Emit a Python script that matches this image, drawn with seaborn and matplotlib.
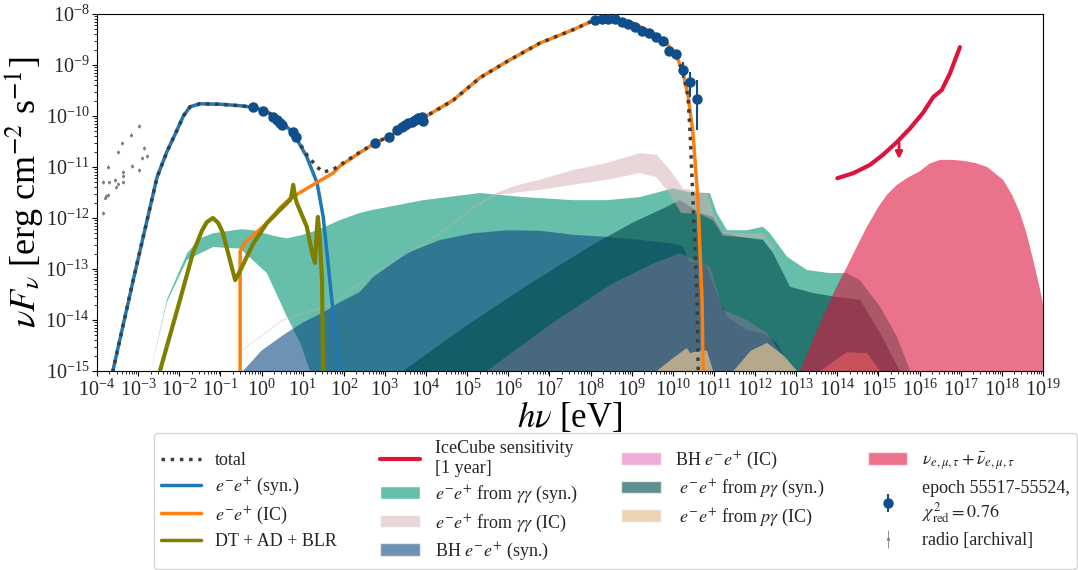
import numpy as np
import matplotlib
matplotlib.use("Agg")
import matplotlib.pyplot as plt
from matplotlib.lines import Line2D
from matplotlib.patches import Patch
from matplotlib.ticker import LogLocator, NullFormatter
import seaborn as sns

# all values below are log10(E / eV), log10(nuFnu)
total = [[-3.67, -15.2], [-3.12, -13.22], [-2.54, -11.2], [-2.3, -10.7], [-2.05, -10.27], [-1.9, -10.0],
         [-1.74, -9.82], [-1.5, -9.76], [-1.0, -9.77], [-0.5, -9.8], [-0.2, -9.83], [0.1, -9.9],
         [0.38, -10.04], [0.77, -10.33], [1.1, -10.76], [1.35, -11.0], [1.5, -11.1], [1.74, -11.05],
         [1.91, -10.96], [2.39, -10.71], [2.76, -10.53], [3.1, -10.4], [3.5, -10.2], [3.93, -10.04],
         [4.66, -9.69], [5.31, -9.25], [5.97, -8.93], [6.77, -8.57], [7.57, -8.31], [8.06, -8.13],
         [8.4, -8.1], [8.7, -8.12], [9.03, -8.18], [9.52, -8.38], [9.86, -8.58], [10.1, -8.84],
         [10.25, -9.16], [10.37, -9.62], [10.42, -10.33], [10.49, -11.65], [10.59, -13.6], [10.62, -15.2]]

syn = [[-3.67, -15.2], [-3.12, -13.22], [-2.54, -11.2], [-2.3, -10.7], [-2.05, -10.27], [-1.9, -10.0],
       [-1.74, -9.82], [-1.5, -9.76], [-1.0, -9.77], [-0.5, -9.8], [-0.2, -9.83], [0.1, -9.9],
       [0.38, -10.04], [0.77, -10.33], [1.1, -10.8], [1.35, -11.31], [1.5, -11.98], [1.66, -13.22],
       [1.8, -14.3], [1.93, -15.2]]

ic = [[-0.52, -15.2], [-0.52, -12.65], [-0.4, -12.48], [0.13, -12.1], [0.45, -11.8], [0.69, -11.62],
      [1.0, -11.47], [1.25, -11.35], [1.74, -11.12], [1.91, -10.98], [2.39, -10.72], [2.76, -10.53],
      [3.1, -10.4], [3.5, -10.2], [3.93, -10.04], [4.66, -9.69], [5.31, -9.25], [5.97, -8.93],
      [6.77, -8.57], [7.57, -8.31], [8.06, -8.13], [8.4, -8.1], [8.7, -8.12], [9.03, -8.18],
      [9.52, -8.38], [9.86, -8.58], [10.1, -8.84], [10.25, -9.16], [10.37, -9.6], [10.49, -10.33],
      [10.61, -11.65], [10.71, -13.6], [10.74, -15.2]]

ext = [[-2.5, -15.2], [-2.47, -15.0], [-1.98, -13.6], [-1.67, -12.69], [-1.45, -12.25], [-1.33, -12.08],
       [-1.18, -12.0], [-1.05, -12.1], [-0.94, -12.29], [-0.77, -12.82], [-0.64, -13.22], [-0.5, -13.0],
       [-0.2, -12.5], [0.13, -12.1], [0.45, -11.84], [0.69, -11.65], [0.72, -11.6], [0.77, -11.35],
       [0.82, -11.6], [0.86, -11.71], [1.1, -12.17], [1.23, -12.69], [1.3, -12.88], [1.35, -12.17],
       [1.37, -11.98], [1.42, -12.43], [1.47, -13.2], [1.5, -15.2]]

icecube = [[14.0, -11.22], [14.39, -11.12], [14.79, -10.96], [15.11, -10.76], [15.45, -10.51],
           [15.77, -10.24], [16.08, -9.94], [16.33, -9.63], [16.54, -9.49], [16.74, -9.16], [16.98, -8.65]]
icecube_arrow = [15.5, -10.47, -10.9]

gg_syn_up = [[-2.75, -15.2], [-2.3, -13.6], [-1.81, -12.69], [-1.5, -12.4], [-1.18, -12.3], [-0.5, -12.22],
             [-0.2, -12.24], [0.3, -12.35], [0.62, -12.4], [1.0, -12.33], [1.35, -12.24], [1.91, -12.04],
             [2.39, -11.9], [2.71, -11.84], [3.93, -11.65], [5.31, -11.51], [6.36, -11.59], [7.57, -11.65],
             [8.4, -11.65], [9.2, -11.59], [10.0, -11.42], [10.49, -11.51], [10.9, -11.51], [11.07, -11.9],
             [11.32, -12.24], [11.8, -12.24], [12.19, -12.17], [12.36, -12.3], [12.78, -12.76],
             [13.26, -13.02], [13.82, -13.08], [14.23, -13.08], [14.55, -13.22], [15.04, -13.74],
             [15.45, -14.33], [15.77, -15.0], [15.85, -15.2]]
gg_syn_lo = [[-2.75, -15.2], [-2.3, -13.65], [-1.81, -12.82], [-1.18, -12.57], [-0.52, -12.6],
             [0.13, -13.08], [0.62, -13.94], [0.94, -14.45], [1.18, -15.0], [1.25, -15.2], [15.85, -15.2]]

gg_ic_up = [[-0.55, -15.2], [-0.5, -14.6], [0.5, -14.0], [1.74, -13.67], [2.71, -13.08], [3.53, -12.69],
            [4.34, -12.3], [5.14, -11.78], [5.73, -11.5], [6.2, -11.36], [6.77, -11.25], [7.57, -11.06],
            [8.4, -10.92], [9.2, -10.73], [9.61, -10.76], [9.93, -11.06], [10.25, -11.42], [10.5, -11.46],
            [10.83, -11.51], [10.98, -11.9], [11.22, -12.27], [11.8, -12.3], [12.2, -12.3], [12.45, -12.6],
            [12.6, -13.0]]
gg_ic_lo = [[-0.55, -15.2], [-0.5, -14.62], [0.5, -14.02], [1.74, -13.69], [2.71, -13.1], [3.53, -12.71],
            [4.34, -12.32], [5.14, -11.81], [5.73, -11.55], [6.2, -11.5], [6.77, -11.45], [7.57, -11.35],
            [8.4, -11.25], [9.2, -11.12], [9.6, -11.2], [9.9, -11.5], [10.2, -11.9], [10.66, -11.92],
            [10.98, -12.05], [11.22, -12.35], [12.2, -12.4], [12.45, -12.65], [12.6, -13.0]]

bh_syn_up = [[-0.5, -15.2], [-0.45, -15.0], [0.0, -14.6], [0.52, -14.3], [1.0, -14.05], [1.5, -13.85],
             [1.91, -13.65], [2.39, -13.45], [2.71, -13.16], [3.53, -12.69], [4.34, -12.43], [5.14, -12.3],
             [5.97, -12.24], [6.77, -12.25], [7.57, -12.33], [8.4, -12.37], [9.2, -12.43], [10.0, -12.5],
             [10.25, -12.56], [10.4, -12.85], [10.66, -12.88], [10.83, -12.96], [11.07, -13.47],
             [11.32, -13.94], [11.8, -14.2], [12.19, -14.26], [12.53, -14.45], [12.85, -14.92], [12.95, -15.2]]

bh_ic_up = [[5.4, -15.2], [5.48, -15.0], [7.0, -14.1], [8.5, -13.3], [9.5, -12.9], [10.17, -12.69],
            [10.66, -12.88], [10.9, -12.96], [11.22, -13.8], [11.8, -14.0], [12.29, -14.26],
            [12.85, -14.92], [12.95, -15.2]]

pg_syn_up = [[3.4, -15.2], [3.44, -15.0], [5.0, -14.1], [6.5, -13.3], [8.0, -12.55], [9.0, -12.1],
             [9.8, -11.8], [10.17, -11.65], [10.66, -11.9], [10.98, -11.98], [11.22, -12.3], [11.63, -12.37],
             [12.19, -12.43], [12.44, -12.69], [12.85, -13.35], [13.41, -13.47], [13.99, -13.55],
             [14.55, -13.6], [15.04, -14.26], [15.52, -15.0], [15.6, -15.2]]

pg_ic_up = [[9.55, -15.2], [9.61, -15.0], [10.0, -14.75], [10.34, -14.55], [10.42, -14.65], [10.66, -14.6],
            [10.83, -14.6], [10.98, -15.0], [11.05, -15.2], [11.4, -15.2], [11.47, -15.0], [11.9, -14.6],
            [12.29, -14.45], [12.7, -14.7], [13.02, -15.0], [13.1, -15.2], [13.5, -15.2], [13.58, -15.0],
            [14.23, -14.63], [14.72, -14.65], [15.04, -15.0], [15.1, -15.2]]

nu_up = [[13.0, -15.2], [13.09, -15.0], [13.4, -14.4], [13.65, -13.94], [13.95, -13.4], [14.23, -12.96],
         [14.5, -12.52], [14.72, -12.17], [15.0, -11.78], [15.2, -11.55], [15.45, -11.35], [15.69, -11.22],
         [16.01, -11.08], [16.25, -10.93], [16.5, -10.86], [16.8, -10.86], [17.06, -10.88], [17.35, -10.92],
         [17.64, -11.0], [18.03, -11.25], [18.25, -11.55], [18.44, -11.9], [18.6, -12.3], [18.76, -12.82],
         [18.9, -13.3], [18.98, -13.6], [19.1, -14.1]]

epoch_x = [-0.21, 0.04, 0.28, 0.38, 0.45, 0.5, 0.77, 0.84,
           2.76, 3.1, 3.29, 3.42, 3.49, 3.56, 3.66, 3.73, 3.8, 3.9, 3.93,
           8.11, 8.28, 8.43, 8.6, 8.76, 8.92, 9.08, 9.25, 9.42, 9.59, 9.76, 9.91, 10.08, 10.25, 10.42, 10.59]
epoch_y = [-9.82, -9.9, -10.02, -10.08, -10.14, -10.18, -10.31, -10.41,
           -10.53, -10.41, -10.27, -10.21, -10.18, -10.14, -10.12, -10.08, -10.04, -10.02, -10.1,
           -8.12, -8.1, -8.1, -8.1, -8.15, -8.2, -8.25, -8.33, -8.38, -8.45, -8.53, -8.72, -8.79, -9.1, -9.34, -9.67]
epoch_err_lo = [0.08, 0.05, 0.03, 0.03, 0.03, 0.03, 0.03, 0.03,
                0.02, 0.02, 0.02, 0.02, 0.02, 0.02, 0.02, 0.02, 0.02, 0.02, 0.02,
                0.02, 0.02, 0.02, 0.02, 0.02, 0.02, 0.02, 0.02, 0.03, 0.03, 0.04, 0.05, 0.06, 0.15, 0.29, 0.6]
epoch_err_hi = [0.06, 0.04, 0.03, 0.03, 0.03, 0.03, 0.03, 0.03,
                0.02, 0.02, 0.02, 0.02, 0.02, 0.02, 0.02, 0.02, 0.02, 0.02, 0.02,
                0.02, 0.02, 0.02, 0.02, 0.02, 0.02, 0.02, 0.02, 0.03, 0.03, 0.04, 0.05, 0.06, 0.16, 0.2, 0.38]

radio_x = [-3.85, -3.85, -3.8, -3.78, -3.73, -3.73, -3.7, -3.56, -3.54, -3.49, -3.48, -3.39, -3.37, -3.37,
           -3.37, -3.17, -3.15, -2.98, -2.98, -2.91, -2.86, -2.78]
radio_y = [-11.9, -11.29, -11.6, -11.57, -11.55, -11.0, -11.3, -11.25, -11.4, -11.33, -10.7, -10.53, -11.1,
           -11.18, -11.3, -10.37, -10.98, -10.2, -11.06, -10.82, -10.63, -10.78]


def lin(pts):
    a = np.array(pts)
    return 10 ** a[:, 0], 10 ** a[:, 1]


def band(ax, upper, lower, **kw):
    x, y = lin(upper + lower[::-1])
    ax.fill(x, y, lw=0, **kw)


def floor(upper):
    return [[upper[0][0], -15.2], [upper[-1][0], -15.2]]


sns.set_style("ticks")
plt.rcParams['font.family'] = ['Liberation Serif', 'DejaVu Serif']
plt.rcParams['mathtext.fontset'] = 'stix'

C_GGSYN, C_GGIC = '#66bfaa', '#d5afb3'
C_BHSYN, C_BHIC = '#0d4a82', '#e78ac3'
C_PGSYN, C_PGIC = '#024e51', '#e5c494'
C_NU = '#dc143c'
C_DATA = '#104e8b'

fig = plt.figure(figsize=(10.78, 5.70), dpi=100)
ax = fig.add_axes([97 / 1078, 1 - 371 / 570, 946 / 1078, 357 / 570])
ax.set_xscale('log')
ax.set_yscale('log')

band(ax, gg_syn_up, gg_syn_lo, color=C_GGSYN, alpha=1.0, zorder=1)
band(ax, bh_syn_up, floor(bh_syn_up), color=C_BHSYN, alpha=0.6, zorder=1.1)
band(ax, pg_syn_up, floor(pg_syn_up), color=C_PGSYN, alpha=0.63, zorder=1.2)
band(ax, bh_ic_up, floor(bh_ic_up), color=C_BHIC, alpha=0.25, zorder=1.3)
band(ax, gg_ic_up, gg_ic_lo, color=C_GGIC, alpha=0.5, zorder=1.4)
band(ax, pg_ic_up, floor(pg_ic_up), color=C_PGIC, alpha=0.7, zorder=1.5)
band(ax, nu_up, floor(nu_up), color=C_NU, alpha=0.6, zorder=1.6)

for pts, col, ls, lw in [(syn, '#1f77b4', '-', 2.5), (ic, '#ff7f0e', '-', 2.5),
                         (ext, '#808000', '-', 3.0), (total, '#3d3d3d', ':', 2.5),
                         (icecube, C_NU, '-', 3.0)]:
    x, y = lin(pts)
    sns.lineplot(x=x, y=y, ax=ax, color=col, linestyle=ls, lw=lw, sort=False,
                 estimator=None, legend=False, zorder=3)

ax_x, ay0, ay1 = icecube_arrow
ax.annotate('', xy=(10 ** ax_x, 10 ** ay1), xytext=(10 ** ax_x, 10 ** ay0),
            arrowprops=dict(arrowstyle='-|>', color=C_NU, lw=2, mutation_scale=10), zorder=3)

ex = 10 ** np.array(epoch_x)
ey = 10 ** np.array(epoch_y)
elo = ey - 10 ** (np.array(epoch_y) - np.array(epoch_err_lo))
ehi = 10 ** (np.array(epoch_y) + np.array(epoch_err_hi)) - ey
h_epoch = ax.errorbar(ex, ey, yerr=[elo, ehi], fmt='o', color=C_DATA, ms=6.5, elinewidth=1.5, zorder=4)

rx = 10 ** np.array(radio_x)
ry = 10 ** np.array(radio_y)
h_radio = ax.errorbar(rx, ry, yerr=0.08 * ry, fmt='.', color='grey', ms=2.5, elinewidth=0.6, zorder=4)

ax.set_xlim(1e-4, 1e19)
ax.set_ylim(1e-15, 1e-8)
ax.xaxis.set_major_locator(LogLocator(base=10, numticks=40))
ax.xaxis.set_minor_locator(LogLocator(base=10, subs=np.arange(2, 10), numticks=400))
ax.xaxis.set_minor_formatter(NullFormatter())
ax.yaxis.set_major_locator(LogLocator(base=10, numticks=20))
ax.yaxis.set_minor_locator(LogLocator(base=10, subs=np.arange(2, 10), numticks=200))
ax.yaxis.set_minor_formatter(NullFormatter())
ax.tick_params(axis='both', which='major', labelsize=14.5, color='k', pad=2)
ax.tick_params(axis='x', which='major', pad=3)
ax.tick_params(axis='both', which='minor', color='k')
for s in ax.spines.values():
    s.set_color('k')

ax.set_xlabel(r'$h\nu$ [eV]', fontsize=25, color='k', labelpad=-1)
ax.set_ylabel(r'$\nu F_\nu$ [erg cm$^{-2}$ s$^{-1}$]', fontsize=26, color='k')
ax.yaxis.set_label_coords(-0.055, 0.5)

handles = [
    Line2D([], [], color='#3d3d3d', ls=':', lw=2.5),
    Line2D([], [], color='#1f77b4', lw=2.5),
    Line2D([], [], color='#ff7f0e', lw=2.5),
    Line2D([], [], color='#808000', lw=2.5),
    Line2D([], [], color=C_NU, lw=3),
    Patch(facecolor=C_GGSYN, alpha=1.0),
    Patch(facecolor=C_GGIC, alpha=0.5),
    Patch(facecolor=C_BHSYN, alpha=0.6),
    Patch(facecolor=C_BHIC, alpha=0.7),
    Patch(facecolor=C_PGSYN, alpha=0.63),
    Patch(facecolor=C_PGIC, alpha=0.7),
    Patch(facecolor=C_NU, alpha=0.6),
    h_epoch,
    h_radio,
]
labels = [
    'total',
    r'$e^{-}e^{+}$ (syn.)',
    r'$e^{-}e^{+}$ (IC)',
    'DT + AD + BLR',
    'IceCube sensitivity\n[1 year]',
    r'$e^{-}e^{+}$ from $\gamma\gamma$ (syn.)',
    r'$e^{-}e^{+}$ from $\gamma\gamma$ (IC)',
    r'BH $e^{-}e^{+}$ (syn.)',
    r'BH $e^{-}e^{+}$ (IC)',
    r' $e^{-}e^{+}$ from $p\gamma$ (syn.)',
    r' $e^{-}e^{+}$ from $p\gamma$ (IC)',
    r'$\nu_{e,\mu,\tau}+\bar{\nu}_{e,\mu,\tau}$',
    'epoch 55517-55524,\n' + r'$\chi^2_{\rm red}=0.76$',
    'radio [archival]',
]
fig.legend(handles, labels, ncol=4, loc='upper right', bbox_to_anchor=(1077 / 1078, 1 - 433 / 570),
           fontsize=13, frameon=True, columnspacing=2.4, handlelength=2.2, labelspacing=0.4,
           borderpad=0.4, borderaxespad=0)

fig.savefig('out.png', dpi=100)
